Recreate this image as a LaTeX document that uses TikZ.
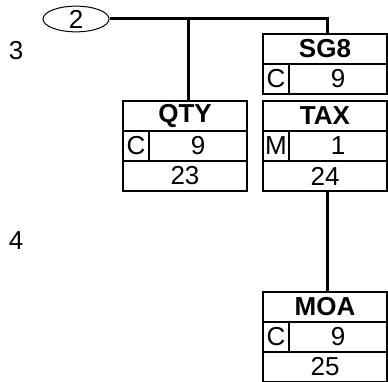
\documentclass[tikz,border=0pt]{standalone}
\usepackage{fontspec}
\setmainfont{Liberation Sans}
\usetikzlibrary{positioning}
\usetikzlibrary{shapes.geometric}
\tikzstyle{every node}=[font=\fontsize{26}{30}\selectfont]
\tikzstyle{every path}=[line width=2pt,line join=miter]
\tikzset{
  cell/.style={draw,line width=2pt,inner sep=0pt,outer sep=0pt,minimum height=30pt},
  head/.style={cell,minimum width=124pt,font=\fontsize{26}{30}\selectfont\bfseries},
  flag/.style={cell,minimum width=26pt},
  reps/.style={cell,minimum width=98pt},
  posn/.style={cell,minimum width=124pt},
  link/.style={line width=3pt,line cap=butt}
}

\begin{document}
\begin{tikzpicture}[x=1pt,y=-1pt]
  \useasboundingbox (0,0) rectangle (388,382);
  % level numbers
  \node (lvl3) at (16,51) {3};
  \node (lvl4) at (16,241) {4};
  % group 2
  \node[draw,ellipse,line width=1pt,minimum width=66pt,minimum height=24pt,inner sep=0pt] (grp) at (76,19) {2};
  % segment group 8
  \node[head,below right=0pt and 0pt of {(263,34)}] (sg8) {SG8};
  \node[flag,below right=0pt and 0pt of sg8.south west] (sg8F) {C};
  \node[reps,right=0pt of sg8F] (sg8R) {9};
  % segments
  \foreach \nm/\xx/\yy/\ttl/\flg/\rep/\pos in
    {qty/123/101/QTY/C/9/23,tax/263/101/TAX/M/1/24,moa/263/292/MOA/C/9/25}{
    \node[head,below right=0pt and 0pt of {(\xx,\yy)}] (\nm) {\ttl};
    \node[flag,below right=0pt and 0pt of \nm.south west] (\nm F) {\flg};
    \node[reps,right=0pt of \nm F] (\nm R) {\rep};
    \node[posn,below right=0pt and 0pt of \nm F.south west] (\nm P) {\pos};
  }
  % connectors
  \draw[link] (grp.east) -| ([xshift=2pt]sg8.north);
  \draw[link] ([xshift=3pt]qty.north) -- ([xshift=3pt]qty.north |- grp.east);
  \draw[link] ([xshift=2pt]taxP.south) -- ([xshift=2pt]moa.north);
\end{tikzpicture}
\end{document}
